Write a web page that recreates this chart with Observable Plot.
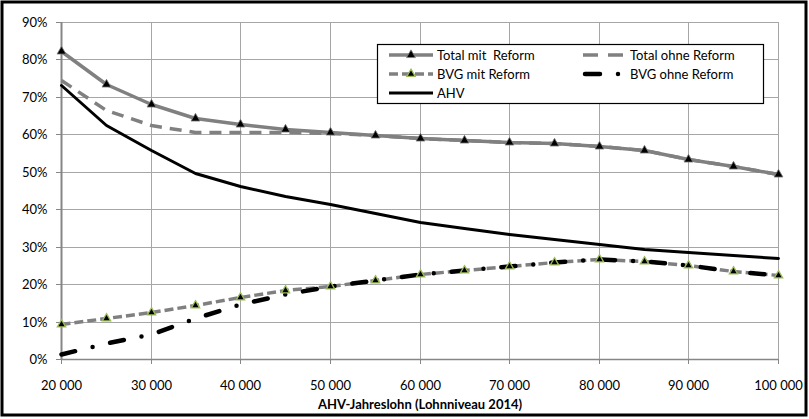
<!DOCTYPE html>
<html><head><meta charset="utf-8">
<script src="https://cdn.jsdelivr.net/npm/d3@7"></script>
<script src="https://cdn.jsdelivr.net/npm/@observablehq/plot@0.6"></script>
<style>
html,body{margin:0;padding:0;background:#fff;}
#chart{width:809px;height:419px;}
svg{display:block;}
</style></head><body><div id="chart"></div>
<script>
const salaries = [20000,25000,30000,35000,40000,45000,50000,55000,60000,65000,70000,75000,80000,85000,90000,95000,100000];
const totalMitReform  = [82.3,73.4,68.0,64.3,62.7,61.4,60.6,59.7,59.1,58.5,58.0,57.6,57.0,55.7,53.5,51.5,49.4];
const totalOhneReform = [74.4,66.6,62.5,60.6,60.6,60.5,60.4,59.7,59.1,58.5,58.0,57.6,57.0,55.7,53.5,51.5,49.4];
const bvgMitReform    = [9.3,11.0,12.5,14.5,16.5,18.3,19.6,21.0,22.6,23.8,24.8,25.8,26.6,26.2,25.0,23.6,22.5];
const bvgOhneReform   = [1.3,4.3,6.8,10.9,14.6,17.4,19.4,21.0,22.6,23.8,24.8,25.8,26.6,26.2,25.0,23.6,22.5];
const ahv             = [73.1,62.4,55.7,49.6,46.1,43.4,41.3,38.9,36.7,35.0,33.5,32.0,30.7,29.5,28.5,27.9,27.0];
const seriesNames = ["Total mit  Reform","Total ohne Reform","BVG mit Reform","BVG ohne Reform","AHV"];
const yTicks = [0,10,20,30,40,50,60,70,80,90];
const xTicks = [20000,30000,40000,50000,60000,70000,80000,90000,100000];
const xTitle = "AHV-Jahreslohn (Lohnniveau 2014)";

const pts = arr => salaries.map((x,i)=>({x, y: arr[i]}));
const fmtX = d => d3.format(",")(d).replace(/,/g, " ");
const gray = "#808080", axisGray = "#868686", green = "#9BBB59", gridGray = "#a6a6a6";
const bvgOhneDash = "14,18,0,18";

const svg = Plot.plot({
  width: 809, height: 419,
  marginLeft: 61, marginRight: 31, marginTop: 22, marginBottom: 60,
  style: {fontFamily: "Lato, 'Open Sans', sans-serif", fontSize: "13px", color: "#000", background: "#fff"},
  x: {domain: [20000, 100000], round: true},
  y: {domain: [0, 90], round: true},
  marks: [
    Plot.ruleY(yTicks.filter(d => d > 0), {stroke: gridGray, strokeWidth: 1}),
    Plot.ruleX(xTicks.filter(d => d > 20000), {stroke: gridGray, strokeWidth: 1}),
    Plot.ruleY([0], {stroke: axisGray, strokeWidth: 1.5}),
    Plot.ruleX([20000], {stroke: axisGray, strokeWidth: 2}),
    Plot.axisY(yTicks, {tickSize: 5, tickPadding: 9, tickFormat: d => d + "%", stroke: axisGray, label: null}),
    Plot.axisX(xTicks, {tickSize: 5, tickPadding: 16, tickFormat: fmtX, stroke: axisGray, label: null}),
    Plot.text([xTitle], {frameAnchor: "bottom", dy: 49, fontWeight: "bold", fontSize: 13}),
    Plot.line(pts(ahv), {x: "x", y: "y", stroke: "#000", strokeWidth: 3}),
    Plot.line(pts(totalOhneReform), {x: "x", y: "y", stroke: gray, strokeWidth: 3.5, strokeDasharray: "12,8", strokeLinecap: "butt"}),
    Plot.line(pts(totalMitReform), {x: "x", y: "y", stroke: gray, strokeWidth: 3.5}),
    Plot.dot(pts(totalMitReform), {x: "x", y: "y", symbol: "triangle", r: 3.3, fill: "#000", stroke: gray, strokeWidth: 0.8}),
    Plot.line(pts(bvgMitReform), {x: "x", y: "y", stroke: gray, strokeWidth: 3.5, strokeDasharray: "9,4", strokeLinecap: "butt"}),
    Plot.line(pts(bvgOhneReform), {x: "x", y: "y", stroke: "#000", strokeWidth: 4.5, strokeDasharray: bvgOhneDash, strokeLinecap: "round"}),
    Plot.dot(pts(bvgMitReform), {x: "x", y: "y", symbol: "triangle", r: 3.1, fill: "#000", stroke: green, strokeWidth: 1.3})
  ]
});
document.getElementById("chart").appendChild(svg);
const s = d3.select(svg);

// legend box (decoration, pixel space)
const lg = s.append("g").attr("font-family", "Lato, 'Open Sans', sans-serif").attr("font-size", 13).attr("text-anchor", "start");
lg.append("rect").attr("x", 377.5).attr("y", 44.5).attr("width", 386).attr("height", 59)
  .attr("fill", "#fff").attr("stroke", "#000").attr("stroke-width", 1.2);
const tri = r => d3.symbol(d3.symbolTriangle, r * r * Math.PI)();
const rows = [55, 74, 93];
const c1 = {x0: 389, x1: 433, tx: 437}, c2 = {x0: 583, x1: 623, tx: 630};
function addText(c, y, t){ lg.append("text").attr("x", c.tx).attr("y", y).attr("dy", "0.35em").attr("text-anchor", "start").style("white-space", "pre").text(t); }
lg.append("line").attr("x1", c1.x0).attr("x2", c1.x1).attr("y1", rows[0]).attr("y2", rows[0]).attr("stroke", gray).attr("stroke-width", 3.5);
lg.append("path").attr("d", tri(3.3)).attr("transform", `translate(${(c1.x0+c1.x1)/2},${rows[0]})`).attr("fill", "#000").attr("stroke", gray).attr("stroke-width", 0.8);
addText(c1, rows[0], seriesNames[0]);
lg.append("line").attr("x1", c2.x0).attr("x2", c2.x1+2).attr("y1", rows[0]).attr("y2", rows[0]).attr("stroke", gray).attr("stroke-width", 3.5).attr("stroke-dasharray", "15,10");
addText(c2, rows[0], seriesNames[1]);
lg.append("line").attr("x1", c1.x0).attr("x2", c1.x1).attr("y1", rows[1]).attr("y2", rows[1]).attr("stroke", gray).attr("stroke-width", 3.5).attr("stroke-dasharray", "9,4");
lg.append("path").attr("d", tri(3.1)).attr("transform", `translate(${(c1.x0+c1.x1)/2},${rows[1]})`).attr("fill", "#000").attr("stroke", green).attr("stroke-width", 1.3);
addText(c1, rows[1], seriesNames[2]);
lg.append("line").attr("x1", c2.x0+2).attr("x2", c2.x1).attr("y1", rows[1]).attr("y2", rows[1]).attr("stroke", "#000").attr("stroke-width", 4.5).attr("stroke-linecap", "round").attr("stroke-dasharray", "15,18,0,100");
addText(c2, rows[1], seriesNames[3]);
lg.append("line").attr("x1", c1.x0).attr("x2", c1.x1).attr("y1", rows[2]).attr("y2", rows[2]).attr("stroke", "#000").attr("stroke-width", 3);
addText(c1, rows[2], seriesNames[4]);

// outer frame
s.append("rect").attr("x", 2).attr("y", 2).attr("width", 804).attr("height", 413)
  .attr("fill", "none").attr("stroke", "#000").attr("stroke-width", 3);
</script></body></html>
